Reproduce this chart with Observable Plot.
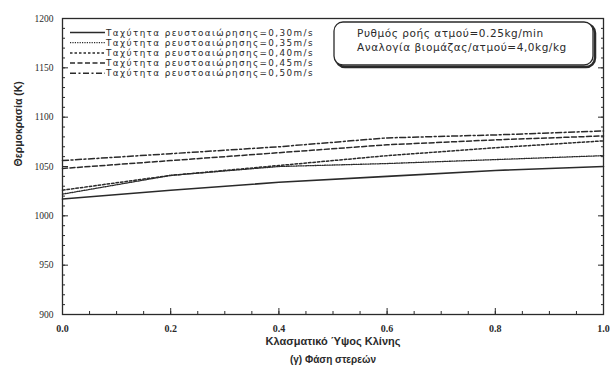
<!DOCTYPE html>
<html>
<head>
<meta charset="utf-8">
<script src="https://cdn.jsdelivr.net/npm/d3@7"></script>
<script src="https://cdn.jsdelivr.net/npm/@observablehq/plot@0.6"></script>
<style>
  html, body { margin: 0; padding: 0; background: #fff; }
  #chart svg { display: block; }
</style>
</head>
<body>
<div id="chart"></div>
<script>
// ---- data ----
const xFrac = [0.0, 0.2, 0.4, 0.6, 0.8, 1.0];
const t030 = [1017, 1026, 1034, 1040, 1046, 1050];
const t035 = [1022, 1041, 1050, 1053, 1057, 1061];
const t040 = [1026, 1041, 1051, 1061, 1069, 1076];
const t045 = [1048, 1056, 1064, 1072, 1077, 1081];
const t050 = [1056, 1063, 1070, 1079, 1082, 1086];
const seriesLabels = [
  "Ταχύτητα ρευστοαιώρησης=0,30m/s",
  "Ταχύτητα ρευστοαιώρησης=0,35m/s",
  "Ταχύτητα ρευστοαιώρησης=0,40m/s",
  "Ταχύτητα ρευστοαιώρησης=0,45m/s",
  "Ταχύτητα ρευστοαιώρησης=0,50m/s"
];
const boxLines = ["Ρυθμός ροής ατμού=0.25kg/min", "Αναλογία βιομάζας/ατμού=4,0kg/kg"];
const yTicks = [900, 950, 1000, 1050, 1100, 1150, 1200];
const xTicks = [0.0, 0.2, 0.4, 0.6, 0.8, 1.0];
const xLabel = "Κλασματικό Ύψος Κλίνης";
const yLabel = "Θερμοκρασία (K)";
const caption = "(γ) Φάση στερεών";

// ---- styles (kept in code) ----
const seriesValues = [t030, t035, t040, t045, t050];
const styles = [
  {dash: null, width: 1.6},
  {dash: "1.2,1.2", width: 1.3},
  {dash: "2.5,2", width: 1.5},
  {dash: "5,2.5", width: 1.5},
  {dash: "6,2.5,2,2.5", width: 1.5}
];
const ink = "#2a2a2a";

const lineMarks = seriesValues.map((vals, i) =>
  Plot.line(xFrac.map((x, j) => ({x, y: vals[j]})), {
    x: "x", y: "y", stroke: ink, strokeWidth: styles[i].width,
    strokeDasharray: styles[i].dash
  })
);

const minorY = d3.range(900, 1201, 10);
const minorX = d3.range(0, 1.0001, 0.05);

const chart = Plot.plot({
  width: 613,
  height: 374,
  marginLeft: 62,
  marginRight: 10,
  marginTop: 18,
  marginBottom: 60,
  style: {background: "#fff", color: ink},
  x: {domain: [0, 1]},
  y: {domain: [900, 1200]},
  marks: [
    ...lineMarks,
    // minor ticks
    Plot.axisY(minorY, {anchor: "left", tickSize: -3, text: null, label: null, stroke: ink}),
    Plot.axisY(minorY, {anchor: "right", tickSize: -3, text: null, label: null, stroke: ink}),
    Plot.axisX(minorX, {anchor: "bottom", tickSize: -3, text: null, label: null, stroke: ink}),
    // major ticks
    Plot.axisY(yTicks, {anchor: "left", tickSize: -6, text: null, label: null, stroke: ink}),
    Plot.axisY(yTicks, {anchor: "right", tickSize: -6, text: null, label: null, stroke: ink}),
    Plot.axisX(xTicks, {anchor: "bottom", tickSize: -6, text: null, label: null, stroke: ink}),
    // tick labels
    Plot.axisY(yTicks, {anchor: "left", tickSize: 0, tickPadding: 9, label: null,
      fontFamily: "Liberation Serif", fontSize: 9.5, tickFormat: d => String(d)}),
    Plot.axisX(xTicks, {anchor: "bottom", tickSize: 0, tickPadding: 10, label: null,
      fontFamily: "Liberation Serif", fontSize: 10, fontWeight: "bold", tickFormat: d => d.toFixed(1)}),
    Plot.frame({stroke: ink, strokeWidth: 1.3}),
    // axis titles
    Plot.text([xLabel], {frameAnchor: "bottom", lineAnchor: "middle", dy: 27, text: d => d,
      fontFamily: "Liberation Sans", fontWeight: "bold", fontSize: 11, fill: ink}),
    Plot.text([caption], {frameAnchor: "bottom", lineAnchor: "middle", dy: 45, text: d => d,
      fontFamily: "Liberation Sans", fontWeight: "bold", fontSize: 10, fill: ink}),
    Plot.text([yLabel], {frameAnchor: "left", dx: -44, rotate: -90, text: d => d,
      fontFamily: "Liberation Sans", fontWeight: "bold", fontSize: 10.5, fill: ink})
  ]
});

document.getElementById("chart").appendChild(chart);

// ---- in-plot legend and annotation box ----
const svg = d3.select(chart);
const leg = svg.append("g").attr("transform", "translate(70,32.5)");
seriesLabels.forEach((lab, i) => {
  const g = leg.append("g").attr("transform", `translate(0,${i * 10.2})`);
  g.append("line").attr("x1", 0).attr("x2", 35).attr("y1", 0).attr("y2", 0)
    .attr("stroke", ink).attr("stroke-width", styles[i].width)
    .attr("stroke-dasharray", styles[i].dash);
  g.append("text").attr("x", 36).attr("y", 0).attr("dy", "0.35em")
    .attr("text-anchor", "start")
    .attr("font-family", "DejaVu Sans").attr("font-size", 8.8)
    .attr("letter-spacing", 1.4)
    .attr("fill", ink).text(lab);
});

const box = svg.append("g").attr("transform", "translate(334,22)");
box.append("rect").attr("x", 2).attr("y", 2).attr("width", 259).attr("height", 43)
  .attr("rx", 9).attr("fill", "none").attr("stroke", ink).attr("stroke-width", 2.5);
box.append("rect").attr("x", 0).attr("y", 0).attr("width", 259).attr("height", 43)
  .attr("rx", 9).attr("fill", "#fff").attr("stroke", ink).attr("stroke-width", 1.3);
boxLines.forEach((t, i) => {
  box.append("text").attr("x", 23).attr("y", 11 + i * 14).attr("dy", "0.35em")
    .attr("text-anchor", "start")
    .attr("font-family", "DejaVu Sans").attr("font-size", 10.5)
    .attr("letter-spacing", 0.55)
    .attr("fill", ink).text(t);
});
</script>
</body>
</html>
